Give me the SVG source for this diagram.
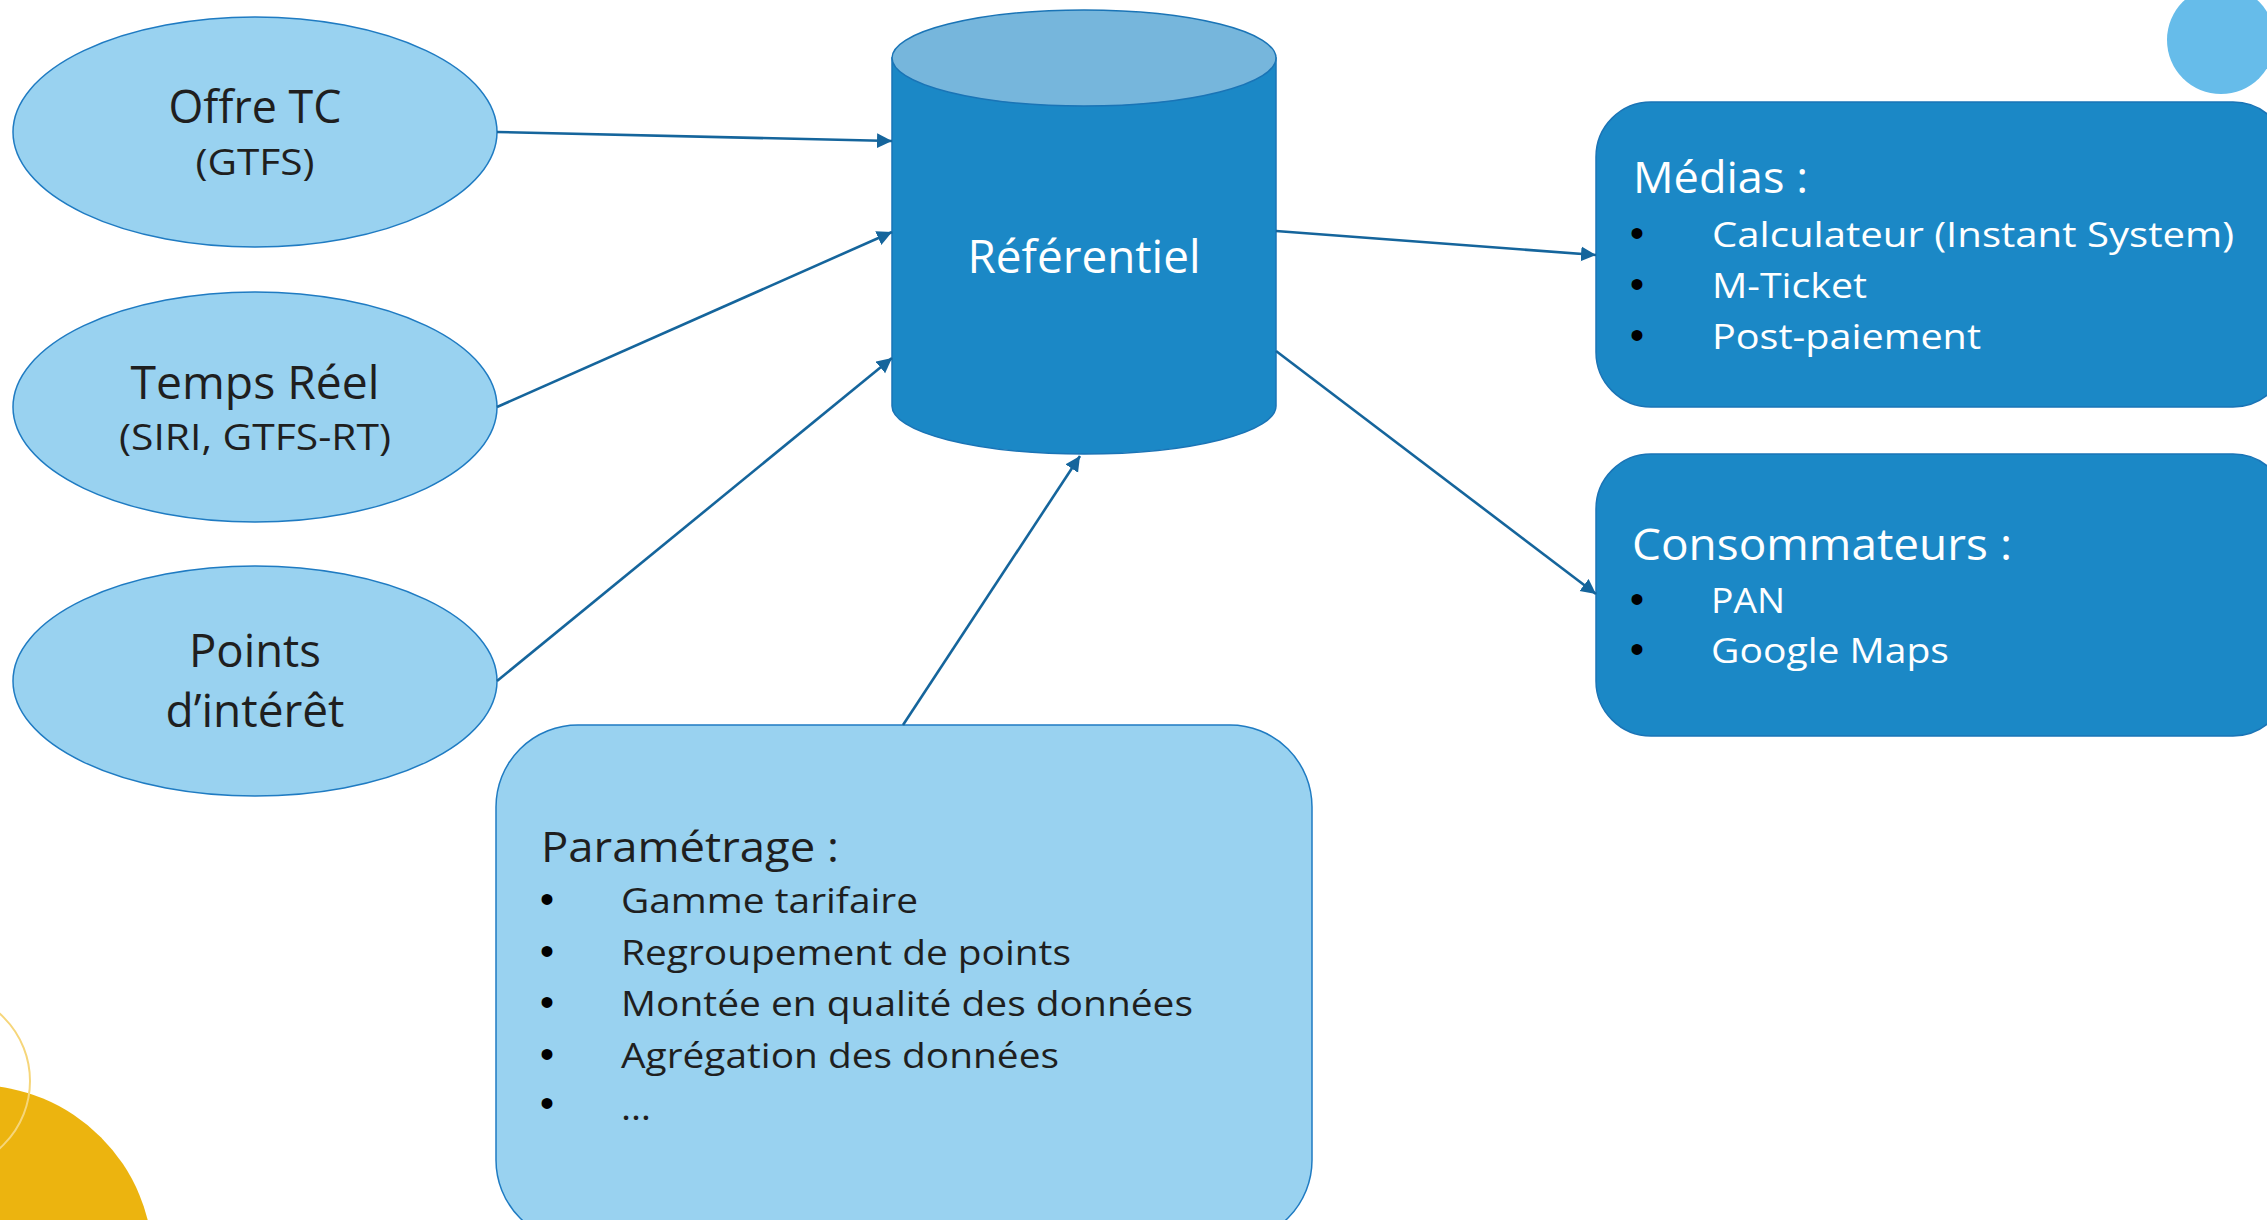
<svg xmlns="http://www.w3.org/2000/svg" width="2267" height="1220" viewBox="0 0 2267 1220">
<style>
.ell{fill:#99D2F0;stroke:#1F7BC2;stroke-width:1.5}
.dark{fill:#1B88C6;stroke:#1A74B6;stroke-width:1.5}
.light{fill:#99D2F0;stroke:#1F7BC2;stroke-width:1.5}
.t{font-family:"Open Sans","Liberation Sans",sans-serif;fill:#1F1F1F}
.w{font-family:"Open Sans","Liberation Sans",sans-serif;fill:#FFFFFF}
.b{font-family:"Liberation Sans",sans-serif;fill:#000000;font-size:40px}
.conn line{stroke:#15659C;stroke-width:2.6;fill:none;marker-end:url(#ah)}
</style>
<defs>
<marker id="ah" markerUnits="userSpaceOnUse" markerWidth="18" markerHeight="16" refX="15" refY="7.5" orient="auto">
<path d="M0,0 L15,7.5 L0,15 z" fill="#15659C"/>
</marker>
</defs>
<rect width="2267" height="1220" fill="#FFFFFF"/>
<g id="decor">
<circle cx="2221" cy="40" r="54" fill="#66BCEA"/>
<circle cx="-25" cy="1263" r="178" fill="#ECB40F"/>
<circle cx="-60" cy="1081" r="90" fill="none" stroke="#F6D67A" stroke-width="2"/>
</g>
<g id="offre-tc">
<ellipse class="ell" cx="255" cy="132" rx="242" ry="115"/>
<text class="t" x="255" y="123" font-size="45" text-anchor="middle" textLength="173" lengthAdjust="spacingAndGlyphs">Offre TC</text>
<text class="t" x="255" y="175" font-size="36" text-anchor="middle" textLength="119" lengthAdjust="spacingAndGlyphs">(GTFS)</text>
</g>
<g id="temps-reel">
<ellipse class="ell" cx="255" cy="407" rx="242" ry="115"/>
<text class="t" x="255" y="399" font-size="45" text-anchor="middle" textLength="249" lengthAdjust="spacingAndGlyphs">Temps Réel</text>
<text class="t" x="255" y="450" font-size="36" text-anchor="middle" textLength="272" lengthAdjust="spacingAndGlyphs">(SIRI, GTFS-RT)</text>
</g>
<g id="points-interet">
<ellipse class="ell" cx="255" cy="681" rx="242" ry="115"/>
<text class="t" x="255" y="667" font-size="45" text-anchor="middle" textLength="132" lengthAdjust="spacingAndGlyphs">Points</text>
<text class="t" x="255" y="727" font-size="45" text-anchor="middle" textLength="179" lengthAdjust="spacingAndGlyphs">d’intérêt</text>
</g>
<g id="referentiel">
<path d="M892,58 L892,406 A192,48 0 0 0 1276,406 L1276,58 Z" fill="#1B88C6" stroke="#1A74B6" stroke-width="1.5"/>
<ellipse cx="1084" cy="58" rx="192" ry="48" fill="#76B6DC" stroke="#1A74B6" stroke-width="1.5"/>
<text class="w" x="1084" y="273" font-size="46" text-anchor="middle" textLength="233" lengthAdjust="spacingAndGlyphs">Référentiel</text>
</g>
<g id="medias">
<rect class="dark" x="1596" y="102" width="692" height="305" rx="55" ry="55"/>
<text class="w" x="1633" y="193" font-size="43" textLength="175" lengthAdjust="spacingAndGlyphs">Médias :</text>
<text class="b" x="1637" y="247" text-anchor="middle">•</text>
<text class="b" x="1637" y="298" text-anchor="middle">•</text>
<text class="b" x="1637" y="349" text-anchor="middle">•</text>
<text class="w" x="1712" y="247" font-size="35" textLength="522" lengthAdjust="spacingAndGlyphs">Calculateur (Instant System)</text>
<text class="w" x="1712" y="298" font-size="35" textLength="155" lengthAdjust="spacingAndGlyphs">M-Ticket</text>
<text class="w" x="1712" y="349" font-size="35" textLength="269" lengthAdjust="spacingAndGlyphs">Post-paiement</text>
</g>
<g id="consommateurs">
<rect class="dark" x="1596" y="454" width="692" height="282" rx="55" ry="55"/>
<text class="w" x="1632" y="560" font-size="43" textLength="380" lengthAdjust="spacingAndGlyphs">Consommateurs :</text>
<text class="b" x="1637" y="613" text-anchor="middle">•</text>
<text class="b" x="1637" y="663" text-anchor="middle">•</text>
<text class="w" x="1711" y="613" font-size="35" textLength="74" lengthAdjust="spacingAndGlyphs">PAN</text>
<text class="w" x="1711" y="663" font-size="35" textLength="238" lengthAdjust="spacingAndGlyphs">Google Maps</text>
</g>
<g id="parametrage">
<rect class="light" x="496" y="725" width="816" height="517" rx="82" ry="82"/>
<text class="t" x="541" y="862" font-size="42" textLength="298" lengthAdjust="spacingAndGlyphs">Paramétrage :</text>
<text class="b" x="547" y="913" text-anchor="middle">•</text>
<text class="b" x="547" y="965" text-anchor="middle">•</text>
<text class="b" x="547" y="1016" text-anchor="middle">•</text>
<text class="b" x="547" y="1068" text-anchor="middle">•</text>
<text class="b" x="547" y="1117" text-anchor="middle">•</text>
<text class="t" x="621" y="913" font-size="35" textLength="297" lengthAdjust="spacingAndGlyphs">Gamme tarifaire</text>
<text class="t" x="621" y="965" font-size="35" textLength="450" lengthAdjust="spacingAndGlyphs">Regroupement de points</text>
<text class="t" x="621" y="1016" font-size="35" textLength="572" lengthAdjust="spacingAndGlyphs">Montée en qualité des données</text>
<text class="t" x="621" y="1068" font-size="35" textLength="438" lengthAdjust="spacingAndGlyphs">Agrégation des données</text>
<text class="t" x="621" y="1120" font-size="35" textLength="30" lengthAdjust="spacingAndGlyphs">…</text>
</g>
<g id="connectors" class="conn">
<line x1="497" y1="132" x2="892" y2="141"/>
<line x1="497" y1="407" x2="892" y2="232"/>
<line x1="497" y1="681" x2="892" y2="358"/>
<line x1="903" y1="725" x2="1080" y2="456"/>
<line x1="1276" y1="231" x2="1596" y2="255"/>
<line x1="1276" y1="351" x2="1596" y2="594"/>
</g>
</svg>
